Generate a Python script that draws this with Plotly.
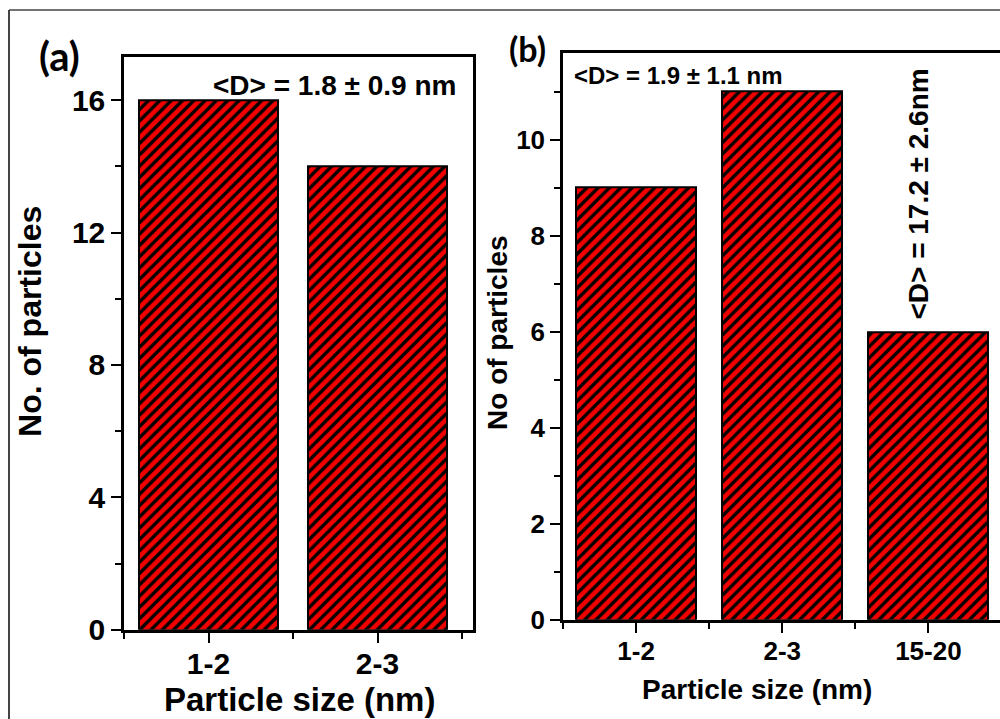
import plotly.graph_objects as go

# Particle size histograms for the two samples
cats_a = ["1-2", "2-3"]
counts_a = [16, 14]

cats_b = ["1-2", "2-3", "15-20"]
counts_b = [9, 11, 6]

W, H = 1000, 719
H_DRAW = 700  # height of the drawing area used for placing panels and labels
FONT = "Liberation Sans"
RED = "#f20000"


def px_x(x):
    return x / W


def px_y(y):
    return 1 - y / H_DRAW


def bar_trace(cats, counts, xa, ya):
    return go.Bar(
        x=list(range(len(cats))),
        y=counts,
        width=0.82,
        xaxis=xa,
        yaxis=ya,
        marker=dict(
            color=RED,
            line=dict(color="black", width=2),
            pattern=dict(shape="/", fgcolor="black", bgcolor=RED,
                         size=8, solidity=0.42, fillmode="replace"),
        ),
        hoverinfo="skip",
    )


fig = go.Figure()
fig.add_trace(bar_trace(cats_a, counts_a, "x", "y"))
fig.add_trace(bar_trace(cats_b, counts_b, "x2", "y2"))

axis_common = dict(showgrid=False, zeroline=False, showline=True,
                   linecolor="black", linewidth=2.5, ticks="outside",
                   tickcolor="black", tickwidth=2, ticklen=10)

fig.update_layout(
    width=W, height=H, autosize=False,
    margin=dict(l=0, r=0, t=0, b=0),
    paper_bgcolor="white", plot_bgcolor="white",
    showlegend=False,
    bargap=0,
    xaxis=dict(**axis_common, domain=[px_x(124), px_x(473)], anchor="y",
               range=[-0.5, 1.565], mirror=True, ticklabelstandoff=-5,
               tickvals=list(range(len(cats_a))), ticktext=cats_a,
               tickfont=dict(family=FONT, size=30, color="black", weight="bold"),
               minor=dict(tickvals=[-0.5, 0.5, 1.5], ticks="outside",
                          ticklen=6, tickwidth=2, tickcolor="black")),
    yaxis=dict(**axis_common, domain=[px_y(628), px_y(57)], anchor="x",
               range=[0, 17.3], mirror=True, dtick=4,
               tickfont=dict(family=FONT, size=30, color="black", weight="bold"),
               minor=dict(dtick=2, ticks="outside", ticklen=6,
                          tickwidth=2, tickcolor="black")),
    xaxis2=dict(**axis_common, domain=[px_x(563), 1.0], anchor="y2",
                range=[-0.5, 2.49], mirror=True, ticklabelstandoff=-4,
                tickvals=list(range(len(cats_b))), ticktext=cats_b,
                tickfont=dict(family=FONT, size=26, color="black", weight="bold"),
                minor=dict(tickvals=[-0.5, 0.5, 1.5], ticks="outside",
                           ticklen=6, tickwidth=2, tickcolor="black")),
    yaxis2=dict(**axis_common, domain=[px_y(618), px_y(53)], anchor="x2",
                range=[0, 11.8], mirror=False, dtick=2,
                tickfont=dict(family=FONT, size=26, color="black", weight="bold"),
                minor=dict(dtick=1, ticks="outside", ticklen=6,
                           tickwidth=2, tickcolor="black")),
)


def label(text, x, y, size, family=FONT, angle=0, xanchor="center"):
    fig.add_annotation(
        text=text, xref="paper", yref="paper", x=px_x(x), y=px_y(y),
        xanchor=xanchor, yanchor="middle", showarrow=False, textangle=angle,
        font=dict(family=family, size=size, color="black", weight="bold"),
    )


# axis titles
label("No. of particles", 30, 321, 32, angle=-90)
label("Particle size (nm)", 299, 698, 33)
label("No of particles", 498, 332, 28, angle=-90)
label("Particle size (nm)", 757, 688, 28)

# panel letters
label("(a)", 59, 56, 40, family="Lato")
label("(b)", 527, 48, 34, family="Lato")

# mean diameters
label("&lt;D&gt; = 1.8 ± 0.9 nm", 458, 85, 28, xanchor="right")
label("&lt;D&gt; = 1.9 ± 1.1 nm", 572, 75, 24, xanchor="left")
label("&lt;D&gt; = 17.2 ± 2.6nm", 919, 194, 28, angle=-90)

# thin frame around the figure
fig.add_shape(type="line", xref="paper", yref="paper",
              x0=px_x(9), y0=px_y(10), x1=1.0, y1=px_y(10),
              line=dict(color="#444444", width=1.5))
fig.add_shape(type="line", xref="paper", yref="paper",
              x0=px_x(9), y0=px_y(10), x1=px_x(9), y1=-0.1,
              line=dict(color="#444444", width=2))

fig.write_html("out.html", config={"responsive": False})
